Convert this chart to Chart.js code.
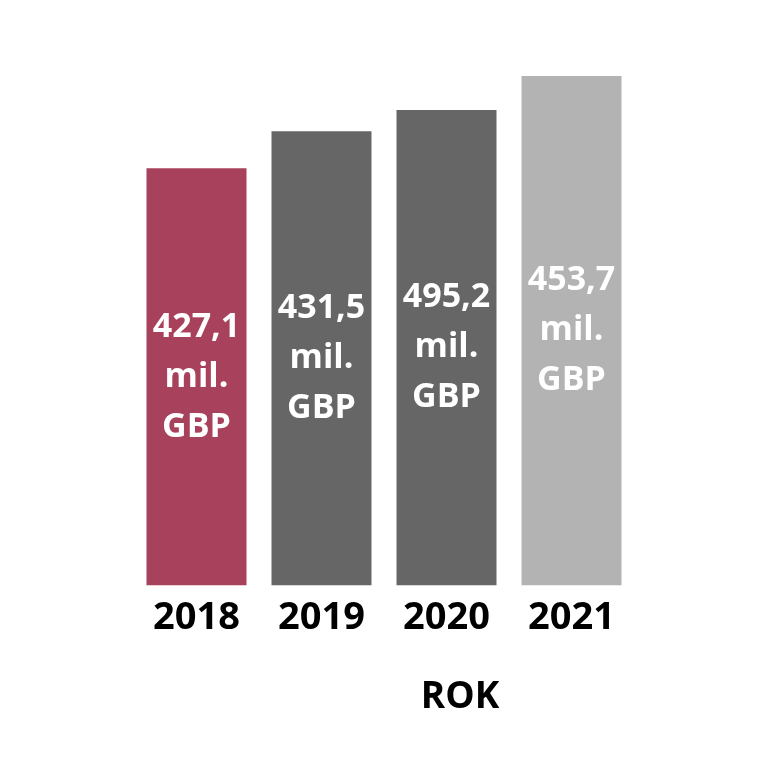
<!DOCTYPE html>
<html>
<head>
<meta charset="utf-8">
<script src="https://cdn.jsdelivr.net/npm/chart.js@4/dist/chart.umd.min.js"></script>
<style>
    html, body { margin: 0; padding: 0; background: #fff; }
    #wrap { width: 768px; height: 768px; }
</style>
</head>
<body>
<div id="wrap"><canvas id="chart" width="768" height="768"></canvas></div>
<script>
const years = ['2018', '2019', '2020', '2021']
// bar heights as drawn in the picture (they do not follow the labels)
const barHeights = [416, 453, 474, 508]
const valueLabels = ['427,1', '431,5', '495,2', '453,7']
const unitLines = ['mil.', 'GBP']
const barColors = ['#A8415B', '#666666', '#666666', '#B3B3B3']
const axisTitle = 'ROK'

const fontFamily = '"Open Sans", "DejaVu Sans", sans-serif'

const barLabels = {
    id: 'barLabels',
    afterDatasetsDraw(chart) {
        const ctx = chart.ctx
        const meta = chart.getDatasetMeta(0)
        ctx.save()
        ctx.fillStyle = '#ffffff'
        ctx.font = 'bold 34px ' + fontFamily
        ctx.textAlign = 'center'
        ctx.textBaseline = 'middle'
        meta.data.forEach((bar, i) => {
            const lines = [valueLabels[i], ...unitLines]
            const mid = (bar.y + bar.base) / 2
            const step = 50
            lines.forEach((line, j) => {
                ctx.fillText(line, bar.x, mid + (j - 1) * step)
            })
        })
        ctx.restore()
    }
}

const axisTitlePlugin = {
    id: 'axisTitlePlugin',
    afterDraw(chart) {
        const ctx = chart.ctx
        const area = chart.chartArea
        ctx.save()
        ctx.fillStyle = '#000000'
        ctx.font = 'bold 37px ' + fontFamily
        ctx.textAlign = 'center'
        ctx.textBaseline = 'middle'
        ctx.fillText(axisTitle, area.left + (area.right - area.left) * 0.652, 697)
        ctx.restore()
    }
}

new Chart(document.getElementById('chart').getContext('2d'), {
    type: 'bar',
    data: {
        labels: years,
        datasets: [{
            data: barHeights,
            backgroundColor: barColors,
            borderWidth: 0,
            barPercentage: 0.8,
            categoryPercentage: 1
        }]
    },
    options: {
        responsive: false,
        animation: false,
        layout: { padding: { top: 76, left: 134, right: 134, bottom: 125 } },
        plugins: {
            legend: { display: false },
            tooltip: { enabled: false }
        },
        scales: {
            x: {
                grid: { display: false },
                border: { display: false },
                ticks: {
                    color: '#000000',
                    padding: 2,
                    font: { family: fontFamily, size: 38, weight: 'bold' }
                }
            },
            y: {
                display: false,
                min: 0,
                max: 508
            }
        }
    },
    plugins: [barLabels, axisTitlePlugin]
})
</script>
</body>
</html>
